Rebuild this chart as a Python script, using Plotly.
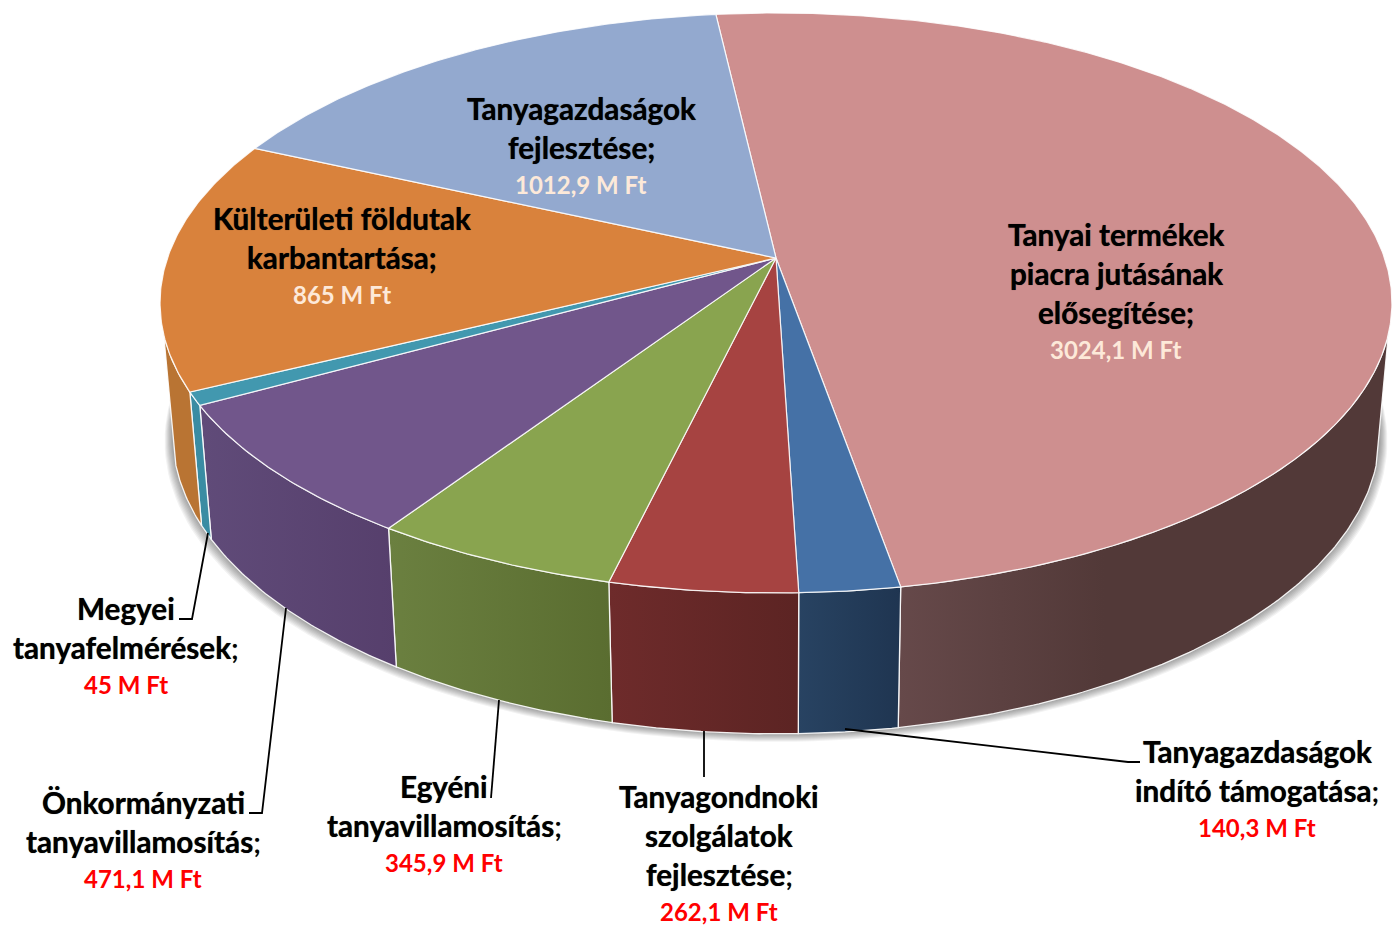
import numpy as np
import plotly.graph_objects as go

# ---- data ----
names = ["Tanyai termékek piacra jutásának elősegítése",
         "Tanyagazdaságok indító támogatása",
         "Tanyagondnoki szolgálatok fejlesztése",
         "Egyéni tanyavillamosítás",
         "Önkormányzati tanyavillamosítás",
         "Megyei tanyafelmérések",
         "Külterületi földutak karbantartása",
         "Tanyagazdaságok fejlesztése"]
values = [3024.1, 140.3, 262.1, 345.9, 471.1, 45, 865, 1012.9]
value_labels = ["3024,1 M Ft", "140,3 M Ft", "262,1 M Ft", "345,9 M Ft",
                "471,1 M Ft", "45 M Ft", "865 M Ft", "1012,9 M Ft"]

# ---- styles ----
top_colors = ["#CE8F8F", "#4571A6", "#A64341", "#89A44F", "#71568B", "#4298AF", "#D9823C", "#93A9CF"]
side_left = ["#66494A", "#284362", "#6E2B2B", "#6B8040", "#604B79", "#3A8CA3", "#B97433", "#93A9CF"]
side_right = ["#523938", "#1F3551", "#5C2423", "#5A6D30", "#563F6C", "#3A8CA3", "#B97433", "#93A9CF"]

# ---- projection of the pie ----
CX, CY, A, B, K = 776, 258, 283, 608.5, 0.155
START = -6.55         # clockwise degrees from the back of the pie
SX, DY0, DY1 = 0.98, 119, 1.037
VIS_FROM, VIS_TO = 105, 255   # part of the rim facing the viewer


def top_rim(deg):
    t = np.radians(deg)
    u, v = np.sin(t), np.cos(t)
    d = 1 + K * v
    return CX + B * u / d, CY - A * v / d


def low_rim(deg):
    x, y = top_rim(deg)
    return CX + (x - CX) * SX, DY0 + DY1 * y


fig = go.Figure()

# soft shadow under the pie
aa = np.linspace(0, 360, 241)
lx, ly = low_rim(aa)
for d in range(8, 0, -1):
    fig.add_trace(go.Scatter(x=CX + (lx - CX) * (1 + d / 620), y=ly + d, mode="lines",
                             fill="toself", fillcolor="rgba(0,0,0,0.05)",
                             line=dict(width=0), hoverinfo="skip", showlegend=False))

total = sum(values)
edges = START + np.concatenate([[0], np.cumsum(values)]) * 360 / total

# rim walls
for i in range(len(values)):
    a0, a1 = max(edges[i], VIS_FROM), min(edges[i + 1], VIS_TO)
    if a1 <= a0:
        continue
    n = max(3, int((a1 - a0) * 2))
    aa = np.linspace(a0, a1, n)
    tx, ty = top_rim(aa)
    bx, by = low_rim(aa)
    xs = np.concatenate([tx, bx[::-1], tx[:1]])
    ys = np.concatenate([ty, by[::-1], ty[:1]])
    stops = [[0, side_left[i]], [0.42 if i == 0 else 1, side_right[i]], [1, side_right[i]]]
    fig.add_trace(go.Scatter(x=xs, y=ys, mode="lines", fill="toself",
                             fillgradient=dict(type="horizontal", colorscale=stops),
                             line=dict(color="rgba(255,255,255,0.9)", width=1.3),
                             name=names[i], hoverinfo="name", showlegend=False))

# top faces
for i in range(len(values)):
    aa = np.linspace(edges[i], edges[i + 1], max(3, int((edges[i + 1] - edges[i]) * 2)))
    tx, ty = top_rim(aa)
    xs = np.concatenate([[CX], tx, [CX]])
    ys = np.concatenate([[CY], ty, [CY]])
    fig.add_trace(go.Scatter(x=xs, y=ys, mode="lines", fill="toself", fillcolor=top_colors[i],
                             line=dict(color="rgba(255,255,255,0.85)", width=1.2),
                             name=names[i], text=value_labels[i], hoverinfo="name+text",
                             showlegend=False))

# ---- labels: (text lines, centre x, first line y, value index, value colour) ----
labels = [
    (["Tanyai termékek", "piacra jutásának", "elősegítése;"], 1116, 234, 0, "#FDE9D9"),
    (["Tanyagazdaságok", "indító támogatása;"], 1257, 751, 1, "#FF0000"),
    (["Tanyagondnoki", "szolgálatok", "fejlesztése;"], 719, 796, 2, "#FF0000"),
    (["Egyéni", "tanyavillamosítás;"], 444, 786, 3, "#FF0000"),
    (["Önkormányzati", "tanyavillamosítás;"], 143, 802, 4, "#FF0000"),
    (["Megyei", "tanyafelmérések;"], 126, 608, 5, "#FF0000"),
    (["Külterületi földutak", "karbantartása;"], 342, 218, 6, "#FDE9D9"),
    (["Tanyagazdaságok", "fejlesztése;"], 581, 108, 7, "#FDE9D9"),
]
annotations = []
for lines, x, y0, idx, vcol in labels:
    for j, line in enumerate(lines):
        if vcol == "#FF0000" and line.endswith(";"):
            html = "<b>" + line[:-1] + "</b>;"
        else:
            html = "<b>" + line + "</b>"
        annotations.append(dict(x=x, y=y0 + 39 * j, text=html, showarrow=False,
                                xanchor="center", yanchor="middle",
                                font=dict(family="Lato", size=29.7, color="#000000",
                                          shadow="0 0 0.7px rgba(0,0,0,0.8)")))
    annotations.append(dict(x=x, y=y0 + 2 + 39 * (len(lines) - 1) + 35,
                            text="<b>" + value_labels[idx] + "</b>",
                            showarrow=False, xanchor="center", yanchor="middle",
                            font=dict(family="Lato", size=24, color=vcol)))

# leader lines
leaders = [
    ([179, 192, 208], [619, 619, 533]),
    ([249, 262, 286], [813, 813, 608]),
    ([491, 499], [798, 700]),
    ([704, 704], [777, 731]),
    ([845, 1128, 1140], [729, 762, 762]),
]
for lx_, ly_ in leaders:
    fig.add_trace(go.Scatter(x=lx_, y=ly_, mode="lines", line=dict(color="#000000", width=1.8),
                             hoverinfo="skip", showlegend=False))

fig.update_layout(
    width=1392, height=925, margin=dict(l=0, r=0, t=0, b=0),
    paper_bgcolor="#FFFFFF", plot_bgcolor="#FFFFFF", showlegend=False,
    xaxis=dict(range=[0, 1392], visible=False, fixedrange=True),
    yaxis=dict(range=[925, 0], visible=False, fixedrange=True),
    annotations=annotations,
)
fig.write_html("out.html", post_script="document.body.style.margin='0';",
               config=dict(displayModeBar=False))
